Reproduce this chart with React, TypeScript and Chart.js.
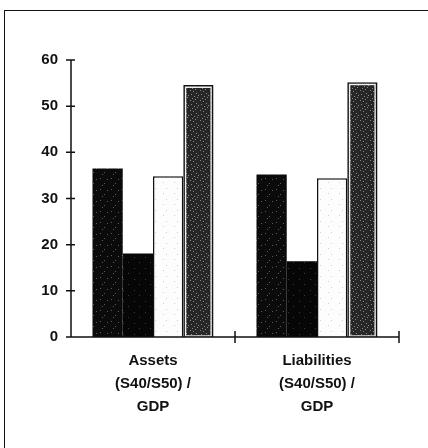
import React, { useEffect, useRef } from "react";
import { Chart, registerables } from "chart.js";

Chart.register(...registerables);

const categories: string[][] = [
  ["Assets", "(S40/S50) /", "GDP"],
  ["Liabilities", "(S40/S50) /", "GDP"],
];
const seriesA = [36.5, 35.2];
const seriesB = [18.1, 16.4];
const seriesC = [34.8, 34.4];
const seriesD = [54.6, 55.2];
const yMin = 0;
const yMax = 60;
const yStep = 10;

function makePattern(base: string, dot: string, dots: number[][], size: number): CanvasPattern | string {
  const c = document.createElement("canvas");
  c.width = size;
  c.height = size;
  const g = c.getContext("2d");
  if (!g) return base;
  g.fillStyle = base;
  g.fillRect(0, 0, size, size);
  g.fillStyle = dot;
  dots.forEach(([x, y]) => g.fillRect(x, y, 1, 1));
  const p = g.createPattern(c, "repeat");
  return p || base;
}

const crossAxes = {
  id: "crossAxes",
  afterDatasetsDraw(chart: any) {
    const { ctx, chartArea: ca, scales } = chart;
    const x = scales.x;
    const y = scales.y;
    ctx.save();
    const meta = chart.getDatasetMeta(3);
    meta.data.forEach((bar: any) => {
      const p = bar.getProps(["x", "y", "base", "width"], true);
      ctx.strokeStyle = "#f2f2f2";
      ctx.lineWidth = 1.3;
      const inset = 2.4;
      ctx.strokeRect(p.x - p.width / 2 + inset, p.y + inset, p.width - inset * 2, p.base - p.y - inset - 1);
    });
    ctx.strokeStyle = "#111";
    ctx.lineWidth = 1.5;
    ctx.beginPath();
    ctx.moveTo(ca.left, ca.top);
    ctx.lineTo(ca.left, ca.bottom);
    ctx.moveTo(ca.left - 5, ca.bottom);
    ctx.lineTo(ca.right, ca.bottom);
    y.ticks.forEach((t: any) => {
      const py = y.getPixelForValue(t.value);
      ctx.moveTo(ca.left - 5, py);
      ctx.lineTo(ca.left + 4, py);
    });
    for (let i = 0; i < x.ticks.length; i++) {
      const px = x.getPixelForValue(i + 0.5);
      ctx.moveTo(px, ca.bottom - 6);
      ctx.lineTo(px, ca.bottom + 6);
    }
    ctx.stroke();
    ctx.restore();
  },
};

export default function App() {
  const ref = useRef<HTMLCanvasElement | null>(null);

  useEffect(() => {
    if (!ref.current) return;
    const pA = makePattern("#0b0b0b", "#5a5a5a", [[1, 2], [5, 7], [8, 3], [3, 9]], 11);
    const pB = makePattern("#060606", "#3a3a3a", [[2, 4], [7, 9]], 11);
    const pC = makePattern("#fdfdfd", "#d0d0d0", [[1, 1], [9, 6]], 11);
    const pD = makePattern("#262626", "#8a8a8a", [[0, 0], [3, 1], [6, 3], [1, 4], [4, 6], [7, 7], [2, 8], [5, 9], [8, 5]], 10);

    const yFont = { family: "'Liberation Sans', Arial, sans-serif", size: 15, weight: "bold" as const };
    const xFont = { family: "'Liberation Sans', Arial, sans-serif", size: 15, weight: "bold" as const, lineHeight: 1.52 };

    const chart = new Chart(ref.current, {
      type: "bar",
      data: {
        labels: categories,
        datasets: [
          { label: "A", data: seriesA, backgroundColor: pA as any, borderWidth: 0 },
          { label: "B", data: seriesB, backgroundColor: pB as any, borderWidth: 0 },
          { label: "C", data: seriesC, backgroundColor: pC as any, borderColor: "#111", borderWidth: 1.5 },
          { label: "D", data: seriesD, backgroundColor: pD as any, borderColor: "#111", borderWidth: 1.6 },
        ],
      },
      options: {
        animation: false,
        responsive: true,
        maintainAspectRatio: false,
        layout: { padding: { top: 60, right: 29, left: 0, bottom: 0 } },
        plugins: { legend: { display: false }, tooltip: { enabled: false } },
        datasets: { bar: { categoryPercentage: 0.738, barPercentage: 1 } },
        scales: {
          x: {
            grid: { display: false, drawTicks: false },
            border: { display: false },
            ticks: { color: "#111", font: xFont, padding: 12.5, maxRotation: 0, autoSkip: false },
            afterFit: (s: any) => {
              s.height = 111;
            },
          },
          y: {
            min: yMin,
            max: yMax,
            grid: { display: false, drawTicks: false },
            border: { display: false },
            ticks: { stepSize: yStep, color: "#111", font: yFont, padding: 13 },
            afterFit: (s: any) => {
              s.width = 71;
            },
          },
        },
      } as any,
      plugins: [crossAxes],
    });
    return () => chart.destroy();
  }, []);

  return (
    <div style={{ position: "absolute", left: 0, top: 0, width: 428, height: 448, background: "#fff", overflow: "hidden" }}>
      <div
        style={{
          position: "absolute",
          left: 4,
          top: 10,
          width: 440,
          height: 460,
          borderTop: "1.5px solid #111",
          borderLeft: "1.5px solid #111",
          boxSizing: "border-box",
        }}
      />
      <canvas ref={ref} style={{ position: "absolute", left: 0, top: 0 }} />
    </div>
  );
}
